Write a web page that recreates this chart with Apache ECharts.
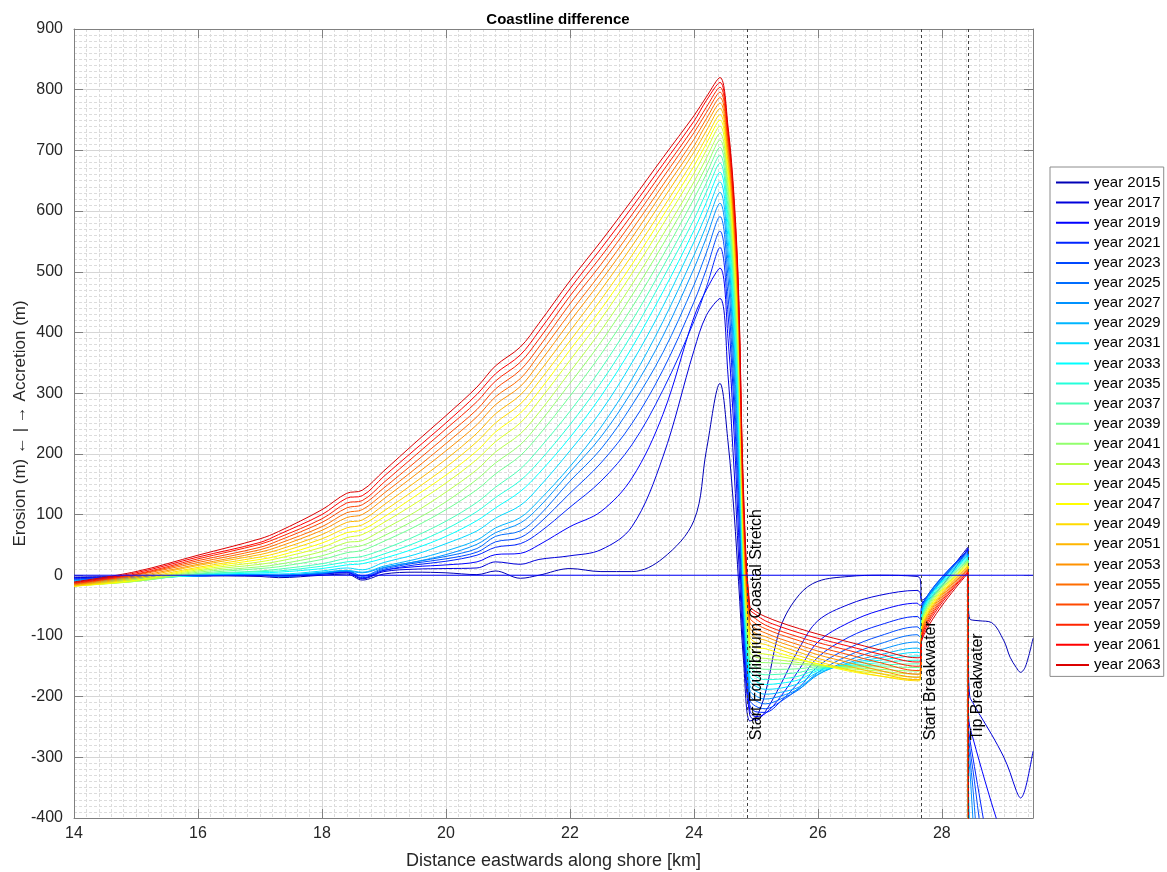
<!DOCTYPE html>
<html>
<head>
<meta charset="utf-8">
<script src="https://cdn.jsdelivr.net/npm/echarts@6/dist/echarts.min.js"></script>
<style>html,body{margin:0;padding:0;background:#fff}#c{width:1167px;height:872px}</style>
</head>
<body>
<div id="c"></div>
<script>
// ---- data ----
const distanceKm = [14, 15, 16, 17, 17.3, 18, 18.4, 18.65, 19, 19.5, 20, 20.5, 20.8, 21.2, 21.5, 22, 22.5, 23, 23.5, 24, 24.2, 24.42,
  24.55, 24.65, 24.72, 24.8, 24.9, 25.0, 25.15, 25.4, 25.7, 26.0, 26.5, 27.0, 27.6, 27.65, 27.68, 28.42,
  28.43, 28.45, 28.5, 28.6, 28.8, 29.0, 29.1, 29.2, 29.27, 29.35, 29.47];
const years = [2015, 2017, 2019, 2021, 2023, 2025, 2027, 2029, 2031, 2033, 2035, 2037, 2039, 2041, 2043, 2045, 2047, 2049, 2051, 2053, 2055, 2057, 2059, 2061, 2063];

const y2015 = [-3, -2, -1, -2, -4, 0, 2, -8, 2, 5, 4, 1, 7, -5, 0, 11, 6, 6, 28, 90, 205, 316,
  220, 100, -10, -140, -240, -235, -195, -85, -32, -10, -2, 0, -2, -6, -41, 46,
  -55, -72, -74, -75, -78, -108, -135, -152, -160, -150, -104];
const y2017 = [-4, -2, -1, 0, -2, 2, 4, -6, 6, 10, 11, 12, 22, 18, 26, 32, 42, 80, 195, 370, 428, 456,
  330, 170, 30, -120, -230, -239, -225, -180, -120, -75, -48, -33, -25, -29, -44, 44,
  -150, -200, -210, -228, -262, -300, -325, -355, -367, -350, -290];
const y2019 = [-5, -3, -1, 0, -2, 3, 5, -5, 8, 14, 17, 22, 34, 36, 50, 80, 105, 160, 265, 425, 470, 506,
  390, 230, 70, -100, -222, -233, -228, -200, -155, -110, -78, -58, -46, -50, -46, 42,
  -230, -250, -268, -305, -375, -440, -475, -510, -535, -560, -600];
const y2021 = [-6, -3, -1, 1, -2, 2, 6, -4, 8, 17, 23, 33, 46, 52, 70, 112, 155, 215, 305, 418, 474, 540,
  430, 270, 110, -85, -213, -225, -226, -208, -175, -135, -102, -82, -68, -72, -49, 41,
  -250, -270, -300, -360, -480, -600, -650, -700, -700, -700, -700];
const y2023 = [-7, -4, -1, 1, -2, 3, 7, -2, 10, 20, 27, 38, 55, 62, 85, 135, 185, 250, 338, 450, 504, 567,
  460, 300, 140, -70, -205, -216, -220, -208, -185, -150, -120, -100, -85, -89, -52, 39,
  -265, -285, -320, -400, -560, -700, -700, -700, -700, -700, -700];
const y2025 = [-8, -4, -1, 1, -2, 3, 8, -1, 12, 22, 31, 44, 64, 73, 98, 155, 208, 280, 367, 478, 531, 591,
  490, 330, 170, -55, -197, -207, -212, -204, -188, -160, -132, -113, -98, -102, -55, 37,
  -280, -300, -350, -480, -700, -700, -700, -700, -700, -700, -700];
const y2027 = [-9, -5, -1, 1, 0, 4, 7, 4, 13, 22, 34, 51, 70, 86, 112, 170, 228, 303, 394, 505, 556, 613,
  515, 355, 195, -45, -189, -199, -204, -199, -187, -164, -140, -123, -110, -113, -57, 35,
  -300, -320, -400, -560, -700, -700, -700, -700, -700, -700, -700];
const y2029 = [-10, -5, -1, 1, 0, 5, 8, 5, 15, 26, 40, 58, 78, 95, 123, 179, 244, 323, 418, 527, 576, 631,
  535, 380, 215, -35, -181, -191, -196, -193, -184, -163, -144, -131, -120, -122, -60, 33,
  -350, -420, -560, -700, -700, -700, -700, -700, -700, -700, -700];
const y2031 = [-11, -6, 0, 2, 2, 7, 12, 9, 21, 34, 52, 73, 94, 115, 145, 205, 270, 350, 443, 549, 595, 648,
  555, 400, 240, -25, -173, -183, -188, -186, -178, -160, -146, -136, -127, -128, -63, 32,
  -450, -600, -700, -700, -700, -700, -700, -700, -700, -700, -700];
const y2033 = [-12, -7, 0, 4, 5, 11, 17, 19, 28, 44, 64, 90, 111, 138, 168, 227, 295, 375, 467, 568, 614, 664,
  575, 420, 260, -15, -165, -175, -180, -178, -172, -157, -147, -140, -133, -133, -65, 30,
  -450, -600, -700, -700, -700, -700, -700, -700, -700, -700, -700];
const y2035 = [-13, -8, 1, 6, 7, 15, 22, 24, 35, 53, 76, 105, 128, 156, 187, 248, 317, 397, 489, 586, 631, 679,
  590, 440, 280, -5, -157, -167, -172, -171, -166, -155, -149, -144, -140, -140, -68, 28,
  -450, -600, -700, -700, -700, -700, -700, -700, -700, -700, -700];
const y2037 = [-14, -9, 2, 7, 10, 19, 28, 31, 43, 64, 89, 120, 145, 175, 208, 270, 340, 419, 508, 603, 646, 692,
  605, 460, 300, 5, -149, -159, -164, -163, -160, -153, -150, -148, -146, -146, -71, 26,
  -450, -600, -700, -700, -700, -700, -700, -700, -700, -700, -700];
const y2039 = [-15, -10, 3, 11, 14, 26, 37, 41, 56, 80, 108, 141, 167, 197, 231, 295, 364, 441, 527, 620, 661, 705,
  620, 475, 320, 15, -141, -151, -155, -155, -154, -151, -151, -151, -152, -152, -73, 24,
  -450, -600, -700, -700, -700, -700, -700, -700, -700, -700, -700];
const y2041 = [-16, -10, 5, 14, 18, 32, 45, 49, 65, 91, 121, 158, 185, 215, 250, 316, 384, 461, 545, 635, 674, 717,
  635, 490, 335, 25, -133, -143, -144, -145, -147, -149, -152, -155, -158, -157, -76, 23,
  -450, -600, -700, -700, -700, -700, -700, -700, -700, -700, -700];
const y2043 = [-17, -10, 7, 18, 23, 39, 54, 57, 76, 104, 137, 174, 203, 233, 268, 335, 403, 479, 561, 648, 687, 728,
  645, 505, 350, 35, -125, -135, -137, -140, -144, -148, -154, -158, -163, -162, -79, 21,
  -450, -600, -700, -700, -700, -700, -700, -700, -700, -700, -700];
const y2045 = [-18, -9, 9, 22, 28, 46, 62, 67, 87, 118, 152, 191, 220, 251, 287, 354, 422, 497, 578, 662, 700, 740,
  660, 520, 365, 45, -117, -127, -130, -134, -140, -146, -156, -162, -168, -167, -82, 19,
  -450, -600, -700, -700, -700, -700, -700, -700, -700, -700, -700];
const y2047 = [-18, -8, 11, 26, 32, 53, 70, 75, 96, 130, 165, 205, 236, 267, 303, 371, 438, 512, 592, 674, 711, 750,
  670, 535, 380, 55, -109, -119, -121, -129, -138, -146, -158, -166, -172, -171, -84, 17,
  -450, -600, -700, -700, -700, -700, -700, -700, -700, -700, -700];
const y2049 = [-18, -6, 13, 30, 37, 60, 78, 83, 106, 141, 178, 220, 251, 282, 319, 386, 454, 527, 605, 685, 721, 759,
  680, 545, 395, 65, -101, -111, -114, -123, -133, -142, -156, -166, -174, -173, -87, 15,
  -450, -600, -700, -700, -700, -700, -700, -700, -700, -700, -700];
const y2051 = [-17, -4, 16, 34, 42, 67, 87, 91, 116, 153, 191, 234, 266, 297, 334, 402, 470, 542, 619, 697, 732, 769,
  690, 560, 410, 80, -93, -103, -107, -117, -127, -137, -150, -162, -172, -171, -90, 14,
  -450, -600, -700, -700, -700, -700, -700, -700, -700, -700, -700];
const y2053 = [-16, -2, 18, 38, 47, 74, 95, 100, 126, 165, 205, 248, 281, 311, 349, 418, 485, 556, 632, 707, 743, 778,
  700, 570, 420, 90, -85, -96, -101, -111, -121, -131, -144, -157, -168, -167, -92, 12,
  -450, -600, -700, -700, -700, -700, -700, -700, -700, -700, -700];
const y2055 = [-15, 0, 21, 42, 52, 80, 103, 108, 135, 175, 217, 261, 294, 324, 363, 432, 498, 569, 643, 718, 752, 787,
  710, 580, 435, 100, -77, -88, -95, -105, -115, -125, -138, -151, -163, -162, -95, 10,
  -450, -600, -700, -700, -700, -700, -700, -700, -700, -700, -700];
const y2057 = [-14, 1, 24, 46, 57, 87, 111, 116, 144, 186, 229, 273, 307, 338, 376, 447, 512, 582, 655, 729, 762, 796,
  718, 590, 445, 110, -69, -80, -88, -98, -108, -118, -131, -144, -157, -156, -98, 8,
  -450, -600, -700, -700, -700, -700, -700, -700, -700, -700, -700];
const y2059 = [-13, 2, 27, 51, 62, 93, 119, 123, 153, 197, 241, 286, 320, 351, 389, 460, 525, 594, 666, 738, 771, 804,
  726, 600, 455, 120, -62, -72, -82, -92, -102, -111, -124, -137, -150, -149, -100, 6,
  -450, -600, -700, -700, -700, -700, -700, -700, -700, -700, -700];
const y2061 = [-12, 4, 30, 54, 67, 100, 127, 131, 163, 207, 251, 298, 332, 363, 402, 472, 538, 606, 677, 748, 782, 812,
  733, 610, 462, 130, -55, -65, -75, -85, -95, -104, -117, -130, -143, -142, -103, 5,
  -450, -600, -700, -700, -700, -700, -700, -700, -700, -700, -700];
const y2063 = [-11, 6, 33, 60, 72, 108, 135, 140, 172, 218, 263, 310, 345, 376, 415, 485, 550, 618, 688, 757, 788, 820,
  740, 620, 470, 140, -50, -60, -68, -78, -88, -97, -110, -123, -136, -135, -106, 3,
  -450, -600, -700, -700, -700, -700, -700, -700, -700, -700, -700];

const markerKm = [24.855, 27.66, 28.42];
const markerLabels = ['Start Equilibrium Coastal Stretch', 'Start Breakwater', 'Tip Breakwater'];
const markerLabelY = -272;

// ---- styling ----
const jetColors = ['#0000b6', '#0000db', '#0000ff', '#0024ff', '#0049ff', '#006dff', '#0092ff', '#00b6ff', '#00dbff', '#00ffff',
  '#24ffdb', '#49ffb6', '#6dff92', '#92ff6d', '#b6ff49', '#dbff24', '#ffff00', '#ffdb00', '#ffb600', '#ff9200',
  '#ff6d00', '#ff4900', '#ff2400', '#ff0000', '#db0000'];
const FONT = "'Liberation Sans', Arial, Helvetica, sans-serif";
const allValues = [y2015, y2017, y2019, y2021, y2023, y2025, y2027, y2029, y2031, y2033, y2035, y2037, y2039,
  y2041, y2043, y2045, y2047, y2049, y2051, y2053, y2055, y2057, y2059, y2061, y2063];
const names = years.map(y => 'year ' + y);
const X_MIN = 14, X_MAX = 29.47;

const series = allValues.map((vals, i) => ({
  name: names[i],
  type: 'line',
  data: distanceKm.map((x, j) => [x, vals[j]]),
  symbol: 'none',
  showSymbol: false,
  smooth: 0.35,
  clip: true,
  silent: true,
  lineStyle: { width: 1, color: jetColors[i] },
  itemStyle: { color: jetColors[i] },
  emphasis: { disabled: true }
}));
series.push({
  name: 'zero',
  type: 'line',
  data: [[X_MIN, 0], [X_MAX, 0]],
  symbol: 'none',
  silent: true,
  lineStyle: { width: 1, color: '#0000ff' },
  markLine: {
    silent: true,
    symbol: ['none', 'none'],
    label: { show: false },
    lineStyle: { type: [3, 3], color: '#404040', width: 1 },
    emphasis: { disabled: true },
    data: markerKm.map(x => ({ xAxis: x }))
  }
});

const axisLineStyle = { color: '#808080', width: 1 };
const chart = echarts.init(document.getElementById('c'), null, { renderer: 'canvas' });
chart.setOption({
  animation: false,
  backgroundColor: '#ffffff',
  title: {
    text: 'Coastline difference',
    left: 553, top: 7, textAlign: 'center',
    textStyle: { fontSize: 15, fontWeight: 'bold', color: '#000', fontFamily: FONT }
  },
  grid: { left: 74, right: 134, top: 29, bottom: 54, containLabel: false, outerBoundsMode: 'none' },
  legend: {
    data: names,
    orient: 'vertical',
    left: 1050, top: 167,
    padding: [8, 3, 4, 5],
    itemGap: 5.1,
    itemWidth: 33,
    itemHeight: 15,
    selectedMode: false,
    borderColor: '#8c8c8c',
    borderWidth: 1,
    backgroundColor: '#ffffff',
    itemStyle: { opacity: 0, borderWidth: 0 },
    textStyle: { fontSize: 15, lineHeight: 15, color: '#000', fontFamily: FONT }
  },
  xAxis: [{
    type: 'value', min: X_MIN, max: X_MAX, interval: 2,
    name: 'Distance eastwards along shore [km]',
    nameLocation: 'middle', nameGap: 34, nameMoveOverlap: false,
    nameTextStyle: { fontSize: 18, color: '#262626', fontFamily: FONT },
    axisLine: { show: true, onZero: false, lineStyle: axisLineStyle },
    axisTick: { show: true, inside: true, length: 9, lineStyle: axisLineStyle },
    axisLabel: { color: '#262626', fontSize: 16, margin: 8, fontFamily: FONT, showMaxLabel: false },
    splitLine: { show: true, lineStyle: { color: '#d6d6d6', width: 1 } },
    minorTick: { show: false, splitNumber: 10 },
    minorSplitLine: { show: true, lineStyle: { color: '#dcdcdc', width: 1, type: [3, 2] } }
  }, {
    type: 'value', min: X_MIN, max: X_MAX, interval: 2, position: 'top',
    axisLine: { show: true, onZero: false, lineStyle: axisLineStyle },
    axisTick: { show: true, inside: true, length: 9, lineStyle: axisLineStyle },
    axisLabel: { show: false },
    splitLine: { show: false }
  }],
  yAxis: [{
    type: 'value', min: -400, max: 900, interval: 100,
    name: 'Erosion (m) \u2190 | \u2192 Accretion (m)',
    nameLocation: 'middle', nameGap: 45, nameRotate: 90, nameMoveOverlap: false,
    nameTextStyle: { fontSize: 17, color: '#262626', fontFamily: FONT },
    axisLine: { show: true, onZero: false, lineStyle: axisLineStyle },
    axisTick: { show: true, inside: true, length: 9, lineStyle: axisLineStyle },
    axisLabel: { color: '#262626', fontSize: 16, margin: 11, fontFamily: FONT },
    splitLine: { show: true, lineStyle: { color: '#d6d6d6', width: 1 } },
    minorTick: { show: false, splitNumber: 10 },
    minorSplitLine: { show: true, lineStyle: { color: '#dcdcdc', width: 1, type: [3, 2] } }
  }, {
    type: 'value', min: -400, max: 900, interval: 100, position: 'right',
    axisLine: { show: true, onZero: false, lineStyle: axisLineStyle },
    axisTick: { show: true, inside: true, length: 9, lineStyle: axisLineStyle },
    axisLabel: { show: false },
    splitLine: { show: false }
  }],
  series: series
});

// rotated marker labels placed through the chart's own scales
const graphics = markerKm.map((x, i) => {
  const p = chart.convertToPixel({ xAxisIndex: 0, yAxisIndex: 0 }, [x, markerLabelY]);
  return {
    type: 'text',
    x: p[0] + 10,
    y: p[1],
    rotation: Math.PI / 2,
    z: 100,
    silent: true,
    style: {
      text: markerLabels[i],
      font: "16px 'Liberation Sans', Arial, sans-serif",
      fill: '#000',
      align: 'left', verticalAlign: 'middle',
      textAlign: 'left', textVerticalAlign: 'middle'
    }
  };
});
chart.setOption({ graphic: graphics });
</script>
</body>
</html>
